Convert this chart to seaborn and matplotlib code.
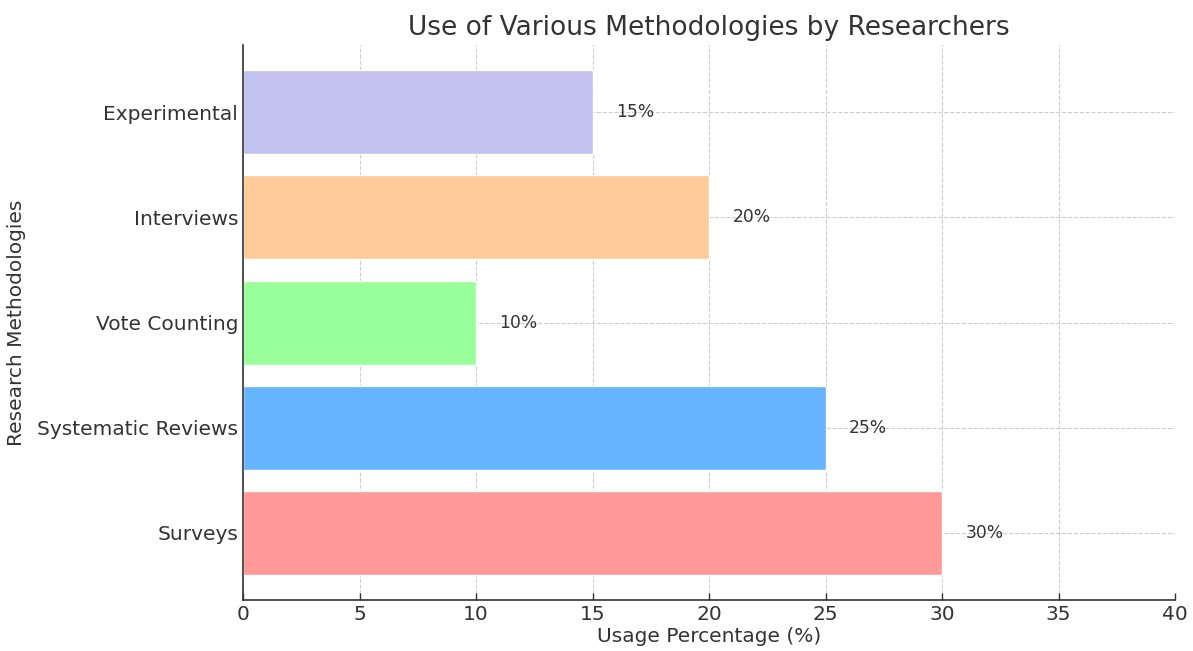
import matplotlib
matplotlib.use("Agg")
import matplotlib.pyplot as plt
import seaborn as sns
import pandas as pd

methods = ["Surveys", "Systematic Reviews", "Vote Counting", "Interviews", "Experimental"]
usage = [30, 25, 10, 20, 15]
colors = ["#ff9999", "#66b3ff", "#99ff99", "#ffcc99", "#c2c2f0"]

sns.set_theme(style="white")
plt.rcParams["font.family"] = ["DejaVu Sans"]

df = pd.DataFrame({"method": methods, "usage": usage})
order = methods[::-1]
palette = dict(zip(methods, colors))

fig, ax = plt.subplots(figsize=(11.93, 6.51), dpi=100)
fig.subplots_adjust(left=0.2037, right=0.985, top=0.931, bottom=0.078)

sns.barplot(data=df, x="usage", y="method", hue="method", order=order,
            hue_order=order, palette=palette, orient="h", width=0.8,
            saturation=1, legend=False, ax=ax, zorder=2)

n = len(methods)
ax.set_ylim(n - 1 + 0.64, -0.64)
ax.set_xlim(0, 40)
ax.set_xticks(range(0, 41, 5))

ax.grid(True, linestyle="--", color="#cccccc", linewidth=0.8, zorder=0)
ax.set_axisbelow(True)

for y, m in enumerate(order):
    v = usage[methods.index(m)]
    ax.text(v + 1, y, f"{v}%", va="center", ha="left", fontsize=12.3, color="#333333")

ax.set_title("Use of Various Methodologies by Researchers", fontsize=19, color="#333333", pad=7)
ax.set_xlabel("Usage Percentage (%)", fontsize=14.5, color="#333333", labelpad=2)
ax.set_ylabel("Research Methodologies", fontsize=14.5, color="#333333", labelpad=8)
ax.tick_params(axis="both", direction="in", length=5, width=1, colors="#333333",
               labelsize=14.5, left=True, bottom=True)

for side in ["top", "right"]:
    ax.spines[side].set_visible(False)
for side in ["left", "bottom"]:
    ax.spines[side].set_color("#333333")
    ax.spines[side].set_linewidth(1.2)

fig.savefig("out.png", dpi=100)
